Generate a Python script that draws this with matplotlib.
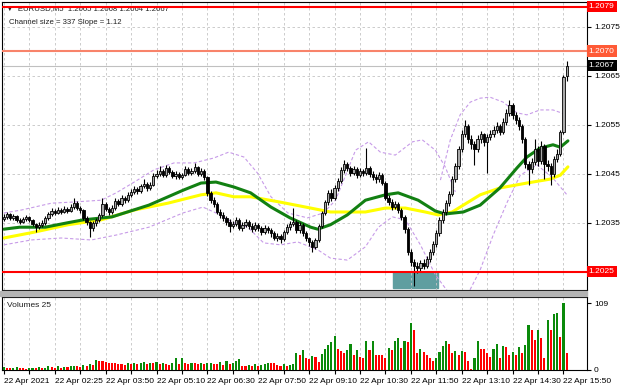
import numpy as np
import matplotlib
matplotlib.use("Agg")
import matplotlib.pyplot as plt
import matplotlib.transforms as mtransforms
from matplotlib.patches import Rectangle

plt.rcParams['font.family'] = ['Liberation Sans', 'DejaVu Sans']

# EURUSD M5 candles, prices in points above 1.20000 (1 point = 0.00001)
opens = [358, 362, 368, 360, 364, 356, 352, 358, 362, 356,
         348, 342, 346, 350, 360, 368, 374, 370, 376, 372,
         378, 374, 382, 390, 380, 376, 360, 352, 340, 350,
         356, 366, 388, 378, 372, 380, 394, 388, 400, 396,
         406, 412, 418, 414, 424, 430, 420, 428, 446, 450,
         456, 448, 462, 454, 446, 450, 444, 448, 460, 452,
         456, 464, 450, 456, 444, 410, 396, 388, 372, 366,
         360, 352, 344, 348, 356, 340, 346, 352, 344, 338,
         346, 340, 332, 340, 336, 330, 320, 324, 316, 332,
         342, 348, 352, 336, 346, 330, 318, 310, 300, 314,
         344, 370, 392, 410, 400, 420, 436, 458, 470, 462,
         452, 460, 448, 456, 452, 462, 450, 444, 440, 448,
         432, 400, 392, 382, 388, 376, 362, 338, 290, 270,
         262, 258, 268, 262, 276, 290, 306, 330, 356, 372,
         390, 408, 440, 466, 500, 530, 548, 520, 510, 500,
         520, 530, 514, 524, 530, 540, 548, 536, 556, 574,
         590, 570, 560, 548, 520, 470, 460, 474, 500, 476,
         506, 470, 466, 450, 480, 490, 535, 650]
highs = [368, 372, 370, 368, 366, 360, 362, 366, 364, 358,
         350, 352, 356, 364, 372, 380, 378, 382, 380, 384,
         382, 388, 401, 394, 384, 378, 364, 354, 354, 360,
         370, 401, 392, 382, 386, 400, 398, 406, 404, 412,
         418, 424, 422, 430, 440, 434, 434, 452, 458, 466,
         460, 468, 466, 458, 456, 454, 452, 466, 464, 462,
         472, 466, 462, 460, 446, 414, 402, 392, 378, 372,
         364, 358, 354, 362, 360, 352, 358, 356, 350, 352,
         350, 344, 346, 344, 340, 334, 330, 328, 336, 348,
         354, 380, 356, 352, 350, 334, 322, 314, 318, 348,
         374, 396, 416, 418, 426, 442, 464, 478, 474, 466,
         466, 464, 462, 460, 502, 466, 456, 450, 454, 452,
         436, 406, 398, 394, 392, 380, 366, 342, 296, 276,
         270, 274, 276, 282, 296, 312, 336, 362, 378, 396,
         414, 446, 472, 506, 540, 560, 552, 528, 516, 528,
         538, 534, 530, 540, 548, 556, 552, 564, 582, 600,
         594, 576, 566, 552, 524, 476, 482, 520, 506, 516,
         510, 478, 472, 486, 500, 540, 652, 680]
lows = [354, 358, 356, 356, 352, 348, 350, 354, 352, 344,
        331, 338, 342, 346, 356, 364, 366, 368, 368, 370,
        370, 372, 378, 376, 370, 356, 346, 321, 334, 344,
        352, 362, 374, 366, 368, 376, 384, 384, 390, 392,
        402, 408, 408, 410, 420, 414, 416, 424, 442, 446,
        444, 444, 450, 442, 440, 440, 440, 446, 448, 448,
        452, 446, 446, 438, 404, 390, 382, 368, 360, 354,
        346, 331, 340, 344, 336, 334, 342, 338, 332, 334,
        334, 326, 328, 330, 322, 314, 312, 309, 312, 328,
        336, 344, 330, 330, 324, 312, 302, 290, 296, 310,
        340, 366, 386, 394, 396, 414, 432, 452, 456, 446,
        448, 442, 444, 446, 448, 444, 438, 432, 434, 426,
        396, 386, 376, 378, 370, 356, 330, 284, 262, 222,
        248, 252, 256, 258, 270, 284, 300, 324, 350, 366,
        384, 404, 434, 460, 494, 524, 512, 500, 468, 494,
        512, 506, 451, 518, 524, 534, 528, 530, 550, 568,
        562, 552, 540, 512, 462, 427, 452, 468, 466, 470,
        440, 456, 427, 444, 474, 486, 530, 640]
closes = [362, 368, 360, 364, 356, 352, 358, 362, 356, 348,
          342, 346, 350, 360, 368, 374, 370, 376, 372, 378,
          374, 382, 390, 380, 376, 360, 352, 340, 350, 356,
          366, 388, 378, 372, 380, 394, 388, 400, 396, 406,
          412, 418, 414, 424, 430, 420, 428, 446, 450, 456,
          448, 462, 454, 446, 450, 444, 448, 460, 452, 456,
          464, 450, 456, 444, 410, 396, 388, 372, 366, 360,
          352, 344, 348, 356, 340, 346, 352, 344, 338, 346,
          340, 332, 340, 336, 330, 320, 324, 316, 332, 342,
          348, 352, 336, 346, 330, 318, 310, 300, 314, 344,
          370, 392, 410, 400, 420, 436, 458, 470, 462, 452,
          460, 448, 456, 452, 462, 450, 444, 440, 448, 432,
          400, 392, 382, 388, 376, 362, 338, 290, 270, 262,
          258, 268, 262, 276, 290, 306, 330, 356, 372, 390,
          408, 440, 466, 500, 530, 548, 520, 510, 500, 520,
          530, 514, 524, 530, 540, 548, 536, 556, 574, 590,
          570, 560, 548, 520, 470, 460, 474, 500, 476, 506,
          470, 466, 450, 480, 490, 535, 648, 670]
volumes = [5, 4, 3, 4, 5, 3, 3, 2, 3, 4,
           4, 5, 3, 4, 6, 5, 4, 6, 4, 5,
           5, 6, 7, 6, 5, 8, 7, 9, 8, 17,
           15, 14, 13, 12, 12, 11, 10, 9, 8, 11,
           10, 12, 9, 12, 13, 10, 12, 11, 13, 9,
           12, 10, 8, 11, 19, 10, 19, 11, 9, 12,
           11, 10, 12, 9, 11, 12, 10, 9, 13, 8,
           14, 10, 12, 15, 18, 7, 6, 8, 7, 9,
           6, 8, 9, 12, 12, 11, 8, 7, 9, 6,
           8, 10, 28, 25, 33, 20, 18, 23, 21, 13,
           26, 34, 40, 45, 56, 34, 31, 28, 32, 43,
           25, 32, 22, 20, 47, 32, 47, 25, 25, 25,
           20, 36, 33, 47, 52, 36, 48, 46, 77, 65,
           27, 35, 29, 25, 20, 15, 19, 29, 39, 48,
           43, 28, 31, 24, 31, 29, 15, 2, 19, 48,
           35, 35, 28, 22, 35, 43, 20, 39, 38, 25,
           30, 24, 37, 28, 40, 73, 65, 49, 65, 52,
           20, 81, 65, 92, 93, 53, 109, 27]

time_labels = ["22 Apr 2021", "22 Apr 02:25", "22 Apr 03:50", "22 Apr 05:10",
               "22 Apr 06:30", "22 Apr 07:50", "22 Apr 09:10", "22 Apr 10:30",
               "22 Apr 11:50", "22 Apr 13:10", "22 Apr 14:30", "22 Apr 15:50"]

# indicator lines (bar index, points)
green_ma_idx = [0, 5, 13, 20, 25, 34, 45.6, 56.6, 62, 66.7, 72.3, 77.6, 84, 90, 96.5,
                98.7, 102.7, 108, 113.7, 120, 124, 130.3, 135.7, 138.8, 144.5, 149.8,
                156, 161.4, 164.5, 168.6, 172.7, 175, 177.4]
green_ma = [337, 341, 341, 350, 356, 362, 386, 417, 431, 433, 423, 411, 382, 360, 341,
            337, 346, 366, 396, 407, 411, 396, 374, 368, 372, 386,
            421, 462, 484, 502, 509, 504, 517]
yellow_ma_idx = [0, 9.6, 20.2, 30.6, 41, 51.6, 62, 66.7, 72.3, 77.6, 87, 96.5, 102.7, 108,
                 113.7, 120, 126.3, 132.5, 136.6, 141, 144.5, 149.8, 156, 164.5, 171.8,
                 175, 177.4]
yellow_ma = [319, 331, 346, 356, 376, 390, 407, 411, 403, 403, 392, 380, 372, 372,
             372, 380, 380, 372, 366, 372, 386, 407, 421, 431, 439, 447, 464]
upper_a_idx = [0, 5.5, 15, 21, 30.6, 35.3, 41, 47.2, 53.5, 59.8, 66, 70.7, 75.5, 79.8, 84,
               89.3, 95.5, 100.5, 104.3, 107.5, 110.6, 114.7, 118.4, 123.1, 128.5, 131.6,
               135.7, 138.8, 142]
upper_a = [370, 376, 390, 392, 396, 411, 433, 458, 472, 472, 482, 494, 484, 451, 403,
           370, 360, 370, 396, 447, 498, 515, 494, 488, 515, 519,
           498, 464, 413]
upper_b_idx = [137.3, 140.4, 143.5, 146.7, 149.8, 152.9, 157, 161.4, 164.5, 168.6, 172.7, 177.1]
upper_b = [437, 519, 570, 596, 604, 606, 596, 574, 570, 580, 580, 570]
lower_idx = [0, 8.6, 18, 27.5, 35.3, 45.6, 56.3, 62.6, 66.7, 72.3, 76.7, 81.7, 87.1, 92.4,
             98.7, 102.7, 108, 113.7, 117.8, 122.2, 126.3, 131, 135.7, 140.4, 145, 149.8,
             153.9, 158.3, 162.4, 167.7, 172.7, 177.1]
lower = [305, 315, 319, 315, 325, 341, 370, 382, 370, 350, 341, 309, 305, 311,
         295, 278, 274, 301, 341, 362, 356, 305, 244, 203, 193, 254,
         325, 392, 447, 468, 441, 407]


def price(p):
    return 1.2 + np.asarray(p, dtype=float) / 100000


o, h, l, c = price(opens), price(highs), price(lows), price(closes)
x = np.arange(len(closes))

fig = plt.figure(figsize=(6.2, 3.88), dpi=100)
fig.patch.set_facecolor('white')
ax = fig.add_axes([2 / 620, 1 - 290 / 388, 585 / 620, 288 / 388])
axv = fig.add_axes([2 / 620, 1 - 370 / 388, 585 / 620, 73 / 388])
fig.patches.append(Rectangle((0, 1 - 296 / 388), 587 / 620, 5 / 388,
                             transform=fig.transFigure, color='#b4b4b4', zorder=0))

grid_idx = np.arange(0, len(closes), 8)
label_idx = np.arange(0, len(closes), 16)

# main price panel
ax.set_xlim(-0.6, 183.4)
ax.set_ylim(1.20213, 1.20800)
ax.set_xticks(grid_idx)
ax.tick_params(axis='x', bottom=False, labelbottom=False)
ax.set_yticks([1.2035, 1.2045, 1.2055, 1.2065, 1.2075])
ax.set_yticklabels(['1.2035', '1.2045', '1.2055', '1.2065', '1.2075'])
ax.yaxis.tick_right()
ax.tick_params(axis='y', length=3, pad=2, labelsize=6, colors='black')
ax.grid(True, color='#c4c4c4', linestyle=(0, (3, 3)), linewidth=0.6)
for s in ax.spines.values():
    s.set_color('black')
    s.set_linewidth(0.8)

ax.add_patch(Rectangle((122.4, 1.20217), 14.0, 0.00033, color='#5f9ea0', zorder=1.5))

ax.plot(upper_a_idx, price(upper_a), color='#c79be8', lw=0.8, ls=(0, (3, 2)), zorder=2)
ax.plot(upper_b_idx, price(upper_b), color='#c79be8', lw=0.8, ls=(0, (3, 2)), zorder=2)
ax.plot(lower_idx, price(lower), color='#c79be8', lw=0.8, ls=(0, (3, 2)), zorder=2)
ax.plot(yellow_ma_idx, price(yellow_ma), color='#ffff00', lw=2.2, zorder=2.2,
        solid_capstyle='round')
ax.plot(green_ma_idx, price(green_ma), color='#128012', lw=2.2, zorder=2.3,
        solid_capstyle='round')

up = c >= o
ax.vlines(x, l, h, color='black', lw=0.8, zorder=3)
ax.bar(x[up], (c - o)[up], bottom=o[up], width=0.72, color='#a8a8a8',
       edgecolor='black', linewidth=0.6, zorder=3.5)
ax.bar(x[~up], (o - c)[~up], bottom=c[~up], width=0.72, color='black',
       edgecolor='black', linewidth=0.6, zorder=3.5)

# horizontal levels
ax.axhline(1.2067, color='#c0c0c0', lw=0.8, zorder=2.5)
ax.axhline(1.2079, color='#ff0000', lw=1.5, zorder=4)
ax.axhline(1.2070, color='#f8836a', lw=1.5, zorder=4)
ax.axhline(1.2025, color='#ff0000', lw=1.5, zorder=4)

tr = mtransforms.blended_transform_factory(ax.transAxes, ax.transData)
for lvl, bg in [(1.2079, '#ff0000'), (1.2070, '#ff5a36'), (1.2067, '#000000'), (1.2025, '#ff0000')]:
    ax.text(1.003, lvl, '%.4f' % lvl, transform=tr, fontsize=6, color='white',
            va='center', ha='left', zorder=6, clip_on=False,
            bbox=dict(boxstyle='square,pad=0.25', fc=bg, ec='none'))

ax.text(0.006, 0.978, '\u25bc  EURUSD,M5  1.2065 1.2068 1.2064 1.2067', transform=ax.transAxes,
        fontsize=5.6, va='center', ha='left', color='#202020', zorder=3.8)
ax.text(0.012, 0.93, 'Channel size = 337 Slope = 1.12', transform=ax.transAxes,
        fontsize=5.6, va='center', ha='left', color='#202020', zorder=5)

# volume panel
vol_colors = ['#0a8a0a' if i == 0 or volumes[i] > volumes[i - 1] else '#ff0000'
              for i in range(len(volumes))]
axv.bar(x, volumes, width=0.66, color=vol_colors, zorder=3)
axv.set_xlim(-0.6, 183.4)
axv.set_ylim(0, 119)
axv.set_yticks([0, 109])
axv.set_yticklabels(['0', '109'])
axv.yaxis.tick_right()
axv.tick_params(axis='y', length=3, pad=2, labelsize=6)
axv.set_xticks(grid_idx)
axv.set_xticklabels([time_labels[list(label_idx).index(i)] if i in label_idx else ''
                     for i in grid_idx], ha='left')
axv.tick_params(axis='x', length=3, pad=3, labelsize=6)
axv.grid(True, axis='x', color='#c4c4c4', linestyle=(0, (3, 3)), linewidth=0.6)
for s in axv.spines.values():
    s.set_color('black')
    s.set_linewidth(0.8)
axv.text(0.008, 0.88, 'Volumes 25', transform=axv.transAxes, fontsize=6,
         va='center', ha='left', color='#202020')

fig.savefig('out.png', dpi=100)
